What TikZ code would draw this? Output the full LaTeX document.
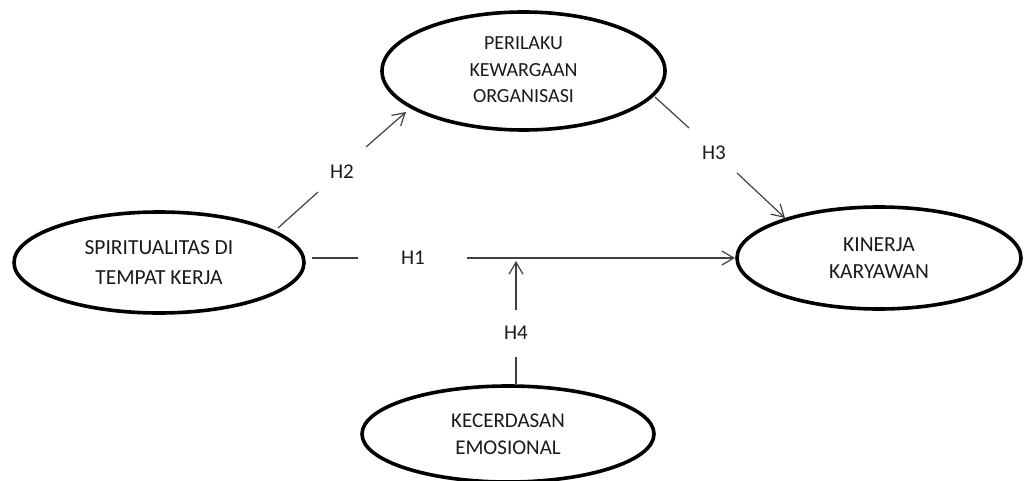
\documentclass[tikz,border=0pt]{standalone}
\usepackage{fontspec}
\setmainfont{Carlito}
\usetikzlibrary{shapes.geometric,arrows.meta}
\definecolor{ln}{HTML}{404040}
\definecolor{tx}{HTML}{1A1A1A}
\tikzset{
  var/.style={ellipse, draw=black, line width=3.6pt, align=center, text=tx, inner sep=0pt},
  lab/.style={text=tx, font=\fontsize{21}{23}\selectfont, inner sep=0pt},
  conn/.style={draw=ln, line width=1.2pt},
  arr/.style={conn, -{Straight Barb[length=12pt,width=14pt,line width=1.2pt]}}
}
\begin{document}
\begin{tikzpicture}[x=1pt,y=-1pt]
\useasboundingbox (0,0) rectangle (1024,481);
% variables
\node[var, minimum width=290pt, minimum height=101pt, font=\fontsize{21.5}{30}\selectfont] (SP) at (159,262.5) {SPIRITUALITAS DI\\TEMPAT KERJA};
\node[var, minimum width=283pt, minimum height=118pt, font=\fontsize{20}{26.5}\selectfont] (PO) at (523.5,71) {\raisebox{-6pt}{\setlength{\tabcolsep}{0pt}\begin{tabular}{c}PERILAKU\\KEWARGAAN\\ORGANISASI\end{tabular}}};
\node[var, minimum width=284pt, minimum height=102pt, font=\fontsize{21.5}{27.5}\selectfont] (KK) at (879,258) {KINERJA\\KARYAWAN};
\node[var, minimum width=292pt, minimum height=96pt, font=\fontsize{21}{27}\selectfont] (KE) at (508,434) {KECERDASAN\\EMOSIONAL};
% labels
\node[lab] (H1) at (413,258) {H1};
\node[lab] (H2) at (342,172) {H2};
\node[lab] (H3) at (714,153) {H3};
\node[lab] (H4) at (516,333) {H4};
% connector end points
\coordinate (h1s) at (312,258);
\coordinate (h1a) at (358,258);
\coordinate (h1b) at (467,258);
\coordinate (h1t) at (735,258);
\coordinate (h2s) at (278,228);
\coordinate (h2a) at (318,192);
\coordinate (h2b) at (366,147);
\coordinate (h2t) at (406,112);
\coordinate (h3s) at (655,97);
\coordinate (h3a) at (689,128);
\coordinate (h3b) at (737,173);
\coordinate (h3t) at (785,218);
\coordinate (h4s) at (516,384);
\coordinate (h4a) at (516,357);
\coordinate (h4b) at (516,310);
\coordinate (h4t) at (516,261);
% connectors
\draw[conn] (h1s) -- (h1a);
\draw[arr] (h1b) -- (h1t);
\draw[conn] (h2s) -- (h2a);
\draw[arr] (h2b) -- (h2t);
\draw[conn] (h3s) -- (h3a);
\draw[arr] (h3b) -- (h3t);
\draw[conn] (h4s) -- (h4a);
\draw[arr] (h4b) -- (h4t);
\end{tikzpicture}
\end{document}
